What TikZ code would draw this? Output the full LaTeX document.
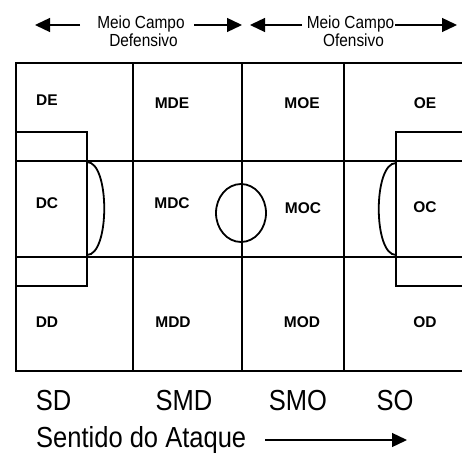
\documentclass[tikz,border=0pt]{standalone}
\usepackage{fontspec}
\setmainfont{Liberation Sans}
\usepackage{tikz}
\usetikzlibrary{arrows.meta}

\newcommand{\nar}[1]{\scalebox{0.88}[1]{#1}}

\begin{document}
\begin{tikzpicture}[x=1pt,y=-1pt]
\useasboundingbox (0,0) rectangle (462,454);

\tikzstyle{every node}=[inner sep=0pt]
\tikzstyle{zone}=[font=\fontsize{15.5}{18}\selectfont\bfseries]
\tikzstyle{sector}=[font=\fontsize{29}{32}\selectfont,anchor=base]
\tikzstyle{half}=[font=\fontsize{17.5}{20}\selectfont,anchor=base]
\tikzstyle{field}=[line width=1.8pt]
\tikzstyle{arr}=[line width=1.3pt,-{Triangle[length=15pt,width=14pt]}]

% campo
\draw[field,line width=2.2pt] (462,63) -- (16,63) -- (16,371) -- (462,371);
\foreach \x in {133,242,344}
  \draw[field] (\x,63) -- (\x,371);
\foreach \y in {161,257}
  \draw[field] (16,\y) -- (462,\y);

% areas
\draw[field] (16,132) rectangle (87,286);
\draw[field] (87,162) .. controls (110,162) and (110,255) .. (87,255);
\draw[field] (462,132) -- (396,132) -- (396,286) -- (462,286);
\draw[field] (396,163) .. controls (373,163) and (373,255) .. (396,255);
\draw[field] (241,213) ellipse [x radius=25,y radius=29];

% zonas
\node (de)  [zone] at (47,100) {DE};
\node (mde) [zone] at (172,103) {MDE};
\node (moe) [zone] at (302,103) {MOE};
\node (oe)  [zone] at (425,103) {OE};
\node (dc)  [zone] at (47,203) {DC};
\node (mdc) [zone] at (172,203) {MDC};
\node (moc) [zone] at (303,208) {MOC};
\node (oc)  [zone] at (425,207) {OC};
\node (dd)  [zone] at (47,322) {DD};
\node (mdd) [zone] at (173,322) {MDD};
\node (mod) [zone] at (302,322) {MOD};
\node (od)  [zone] at (425,322) {OD};

% setores
\node (sd)  [sector] at (53.5,410) {\nar{SD}};
\node (smd) [sector] at (184,410) {\nar{SMD}};
\node (smo) [sector] at (298,410) {\nar{SMO}};
\node (so)  [sector] at (395,410) {\nar{SO}};
\node (ataque) [font=\fontsize{29}{32}\selectfont,anchor=base west] at (36,447.5) {\nar{Sentido do Ataque}};

% meio campo
\node (mcd)  [half] at (141,28.3) {\nar{Meio Campo}};
\node (def)  [half] at (143.5,46.7) {\nar{Defensivo}};
\node (mco)  [half] at (350.5,28.3) {\nar{Meio Campo}};
\node (ofe)  [half] at (353.5,46.7) {\nar{Ofensivo}};

\coordinate (a1) at (80,25);  \coordinate (t1) at (35,25);
\coordinate (a2) at (194,25); \coordinate (t2) at (242,25);
\coordinate (a3) at (302,25); \coordinate (t3) at (250,25);
\coordinate (a4) at (395,25); \coordinate (t4) at (457,25);
\coordinate (a5) at (265,440); \coordinate (t5) at (407,440);

\draw[arr] (a1) -- (t1);
\draw[arr] (a2) -- (t2);
\draw[arr] (a3) -- (t3);
\draw[arr] (a4) -- (t4);
\draw[arr] (a5) -- (t5);
\end{tikzpicture}
\end{document}
